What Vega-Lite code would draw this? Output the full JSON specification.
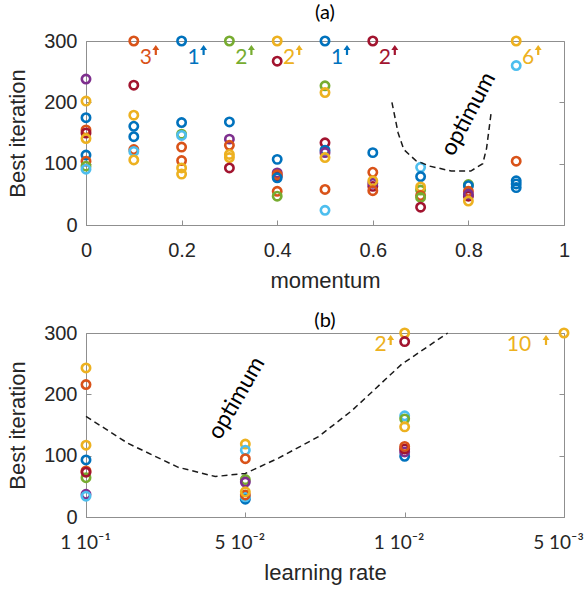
{
  "$schema": "https://vega.github.io/schema/vega-lite/v6.json",
  "background": "white",
  "padding": {"left": 6, "top": 2, "right": 0, "bottom": 4},
  "spacing": 18,
  "datasets": {
    "ptsA": [
      {"m": 0, "it": 238, "c": "purple"}, {"m": 0, "it": 202, "c": "yellow"}, {"m": 0, "it": 175, "c": "blue"},
      {"m": 0, "it": 155, "c": "orange"}, {"m": 0, "it": 150, "c": "darkred"}, {"m": 0, "it": 141, "c": "yellow"},
      {"m": 0, "it": 114, "c": "blue"}, {"m": 0, "it": 104, "c": "orange"}, {"m": 0, "it": 96, "c": "green"},
      {"m": 0, "it": 91, "c": "cyan"},
      {"m": 0.1, "it": 300, "c": "orange"}, {"m": 0.1, "it": 228, "c": "darkred"}, {"m": 0.1, "it": 179, "c": "yellow"},
      {"m": 0.1, "it": 161, "c": "blue"}, {"m": 0.1, "it": 144, "c": "blue"}, {"m": 0.1, "it": 123, "c": "orange"},
      {"m": 0.1, "it": 120, "c": "cyan"}, {"m": 0.1, "it": 106, "c": "yellow"},
      {"m": 0.2, "it": 300, "c": "blue"}, {"m": 0.2, "it": 167, "c": "blue"}, {"m": 0.2, "it": 148, "c": "green"},
      {"m": 0.2, "it": 146, "c": "cyan"}, {"m": 0.2, "it": 127, "c": "orange"}, {"m": 0.2, "it": 105, "c": "orange"},
      {"m": 0.2, "it": 93, "c": "yellow"}, {"m": 0.2, "it": 83, "c": "yellow"},
      {"m": 0.3, "it": 300, "c": "green"}, {"m": 0.3, "it": 168, "c": "blue"}, {"m": 0.3, "it": 140, "c": "purple"},
      {"m": 0.3, "it": 130, "c": "orange"}, {"m": 0.3, "it": 115, "c": "yellow"}, {"m": 0.3, "it": 110, "c": "yellow"},
      {"m": 0.3, "it": 93, "c": "darkred"},
      {"m": 0.4, "it": 300, "c": "yellow"}, {"m": 0.4, "it": 267, "c": "darkred"}, {"m": 0.4, "it": 107, "c": "blue"},
      {"m": 0.4, "it": 80, "c": "darkred"}, {"m": 0.4, "it": 85, "c": "purple"}, {"m": 0.4, "it": 82, "c": "orange"},
      {"m": 0.4, "it": 77, "c": "blue"}, {"m": 0.4, "it": 55, "c": "orange"}, {"m": 0.4, "it": 47, "c": "green"},
      {"m": 0.5, "it": 300, "c": "blue"}, {"m": 0.5, "it": 227, "c": "green"}, {"m": 0.5, "it": 216, "c": "yellow"},
      {"m": 0.5, "it": 134, "c": "darkred"}, {"m": 0.5, "it": 122, "c": "blue"}, {"m": 0.5, "it": 118, "c": "purple"},
      {"m": 0.5, "it": 110, "c": "yellow"}, {"m": 0.5, "it": 58, "c": "orange"}, {"m": 0.5, "it": 24, "c": "cyan"},
      {"m": 0.6, "it": 300, "c": "darkred"}, {"m": 0.6, "it": 118, "c": "blue"}, {"m": 0.6, "it": 86, "c": "orange"},
      {"m": 0.6, "it": 63, "c": "darkred"}, {"m": 0.6, "it": 68, "c": "purple"}, {"m": 0.6, "it": 72, "c": "yellow"},
      {"m": 0.6, "it": 56, "c": "orange"},
      {"m": 0.7, "it": 94, "c": "cyan"}, {"m": 0.7, "it": 79, "c": "blue"}, {"m": 0.7, "it": 57, "c": "green"},
      {"m": 0.7, "it": 62, "c": "yellow"}, {"m": 0.7, "it": 48, "c": "orange"}, {"m": 0.7, "it": 45, "c": "green"},
      {"m": 0.7, "it": 29, "c": "darkred"},
      {"m": 0.8, "it": 66, "c": "green"}, {"m": 0.8, "it": 64, "c": "blue"}, {"m": 0.8, "it": 47, "c": "darkred"},
      {"m": 0.8, "it": 55, "c": "orange"}, {"m": 0.8, "it": 50, "c": "purple"}, {"m": 0.8, "it": 39, "c": "yellow"},
      {"m": 0.9, "it": 300, "c": "yellow"}, {"m": 0.9, "it": 260, "c": "cyan"}, {"m": 0.9, "it": 104, "c": "orange"},
      {"m": 0.9, "it": 72, "c": "blue"}, {"m": 0.9, "it": 67, "c": "blue"}, {"m": 0.9, "it": 61, "c": "blue"}
    ],
    "capA": [
      {"m": 0.1, "it": 300, "c": "orange", "n": "3"},
      {"m": 0.2, "it": 300, "c": "blue", "n": "1"},
      {"m": 0.3, "it": 300, "c": "green", "n": "2"},
      {"m": 0.4, "it": 300, "c": "yellow", "n": "2"},
      {"m": 0.5, "it": 300, "c": "blue", "n": "1"},
      {"m": 0.6, "it": 300, "c": "darkred", "n": "2"},
      {"m": 0.9, "it": 300, "c": "yellow", "n": "6"}
    ],
    "curveA": [
      {"k": 1, "m": 0.640, "it": 200}, {"k": 2, "m": 0.653, "it": 150}, {"k": 3, "m": 0.665, "it": 123},
      {"k": 4, "m": 0.69, "it": 105}, {"k": 5, "m": 0.719, "it": 96}, {"k": 6, "m": 0.764, "it": 88},
      {"k": 7, "m": 0.805, "it": 88}, {"k": 8, "m": 0.830, "it": 100}, {"k": 9, "m": 0.838, "it": 125},
      {"k": 10, "m": 0.843, "it": 155}, {"k": 11, "m": 0.848, "it": 186}
    ],
    "ptsB": [
      {"lr": 0, "it": 243, "c": "yellow"}, {"lr": 0, "it": 216, "c": "orange"}, {"lr": 0, "it": 117, "c": "yellow"},
      {"lr": 0, "it": 93, "c": "blue"}, {"lr": 0, "it": 75, "c": "orange"}, {"lr": 0, "it": 64, "c": "green"},
      {"lr": 0, "it": 73, "c": "darkred"}, {"lr": 0, "it": 37, "c": "purple"}, {"lr": 0, "it": 34, "c": "cyan"},
      {"lr": 1, "it": 119, "c": "yellow"}, {"lr": 1, "it": 109, "c": "cyan"}, {"lr": 1, "it": 95, "c": "orange"},
      {"lr": 1, "it": 61, "c": "green"}, {"lr": 1, "it": 57, "c": "purple"}, {"lr": 1, "it": 29, "c": "blue"},
      {"lr": 1, "it": 33, "c": "cyan"}, {"lr": 1, "it": 36, "c": "orange"}, {"lr": 1, "it": 41, "c": "yellow"},
      {"lr": 2, "it": 300, "c": "yellow"}, {"lr": 2, "it": 286, "c": "darkred"}, {"lr": 2, "it": 165, "c": "cyan"},
      {"lr": 2, "it": 160, "c": "green"}, {"lr": 2, "it": 147, "c": "yellow"}, {"lr": 2, "it": 99, "c": "blue"},
      {"lr": 2, "it": 106, "c": "purple"}, {"lr": 2, "it": 111, "c": "darkred"}, {"lr": 2, "it": 115, "c": "orange"},
      {"lr": 3, "it": 300, "c": "yellow"}
    ],
    "curveB": [
      {"k": 1, "lr": 0, "it": 164}, {"k": 2, "lr": 0.264, "it": 120}, {"k": 3, "lr": 0.579, "it": 81},
      {"k": 4, "lr": 0.811, "it": 66}, {"k": 5, "lr": 1.0, "it": 71}, {"k": 6, "lr": 1.208, "it": 96},
      {"k": 7, "lr": 1.459, "it": 131}, {"k": 8, "lr": 1.667, "it": 173}, {"k": 9, "lr": 1.981, "it": 249},
      {"k": 10, "lr": 2.27, "it": 300}
    ]
  },
  "config": {
    "view": {"stroke": "#8f8f8f", "strokeWidth": 1},
    "axis": {
      "grid": false, "domainColor": "#8f8f8f", "tickColor": "#8f8f8f", "tickSize": -5, "labelFlush": false, "offset": 0,
      "labelFont": "Liberation Sans", "labelFontSize": 20, "labelColor": "#262626",
      "titleFont": "Liberation Sans", "titleFontSize": 22, "titleFontWeight": "normal", "titleColor": "#262626"
    },
    "title": {"font": "Lato", "fontSize": 20, "fontWeight": "normal", "color": "#000000"}
  },
  "vconcat": [
    {
      "width": 478, "height": 184,
      "title": {"text": "(a)", "offset": 8},
      "resolve": {"axis": {"y": "independent"}},
      "layer": [
        {
          "data": {"name": "ptsA"},
          "mark": {"type": "point", "shape": "circle", "filled": false, "size": 70, "strokeWidth": 2.6, "opacity": 1},
          "encoding": {
            "x": {"field": "m", "type": "quantitative", "scale": {"domain": [0, 1], "padding": 0, "nice": false},
                  "axis": {"title": "momentum", "values": [0, 0.2, 0.4, 0.6, 0.8, 1], "format": "~g", "labelPadding": 20, "titlePadding": 10}},
            "y": {"field": "it", "type": "quantitative", "scale": {"domain": [0, 300], "padding": 0, "nice": false},
                  "axis": {"title": "Best iteration", "values": [0, 100, 200, 300], "labelPadding": 14, "titlePadding": 14, "offset": 0}},
            "color": {"field": "c", "type": "nominal", "legend": null,
                      "scale": {"domain": ["blue", "orange", "yellow", "purple", "green", "cyan", "darkred"],
                                "range": ["#0072BD", "#D95319", "#EDB120", "#7E2F8E", "#77AC30", "#4DBEEE", "#A2142F"]}}
          }
        },
        {
          "data": {"name": "curveA"},
          "mark": {"type": "line", "color": "#1a1a1a", "strokeWidth": 1.5, "strokeDash": [6, 4]},
          "encoding": {
            "x": {"field": "m", "type": "quantitative"},
            "y": {"field": "it", "type": "quantitative",
                  "axis": {"orient": "right", "title": null, "labels": false, "domain": false, "values": [0, 100, 200, 300], "offset": 0}},
            "order": {"field": "k"}
          }
        },
        {
          "data": {"name": "capA"},
          "mark": {"type": "text", "font": "Lato", "fontSize": 21, "align": "center", "baseline": "middle", "dx": 12, "dy": 17},
          "encoding": {
            "x": {"field": "m", "type": "quantitative"},
            "y": {"field": "it", "type": "quantitative", "axis": null},
            "text": {"field": "n"},
            "color": {"field": "c", "type": "nominal", "legend": null}
          }
        },
        {
          "data": {"name": "capA"},
          "mark": {"type": "point", "filled": true, "opacity": 1, "size": 100, "xOffset": 22, "yOffset": 9,
                   "shape": "M0,-1L0.7,0L0.22,0L0.22,1L-0.22,1L-0.22,0L-0.7,0Z"},
          "encoding": {
            "x": {"field": "m", "type": "quantitative"},
            "y": {"field": "it", "type": "quantitative", "axis": null},
            "color": {"field": "c", "type": "nominal", "legend": null}
          }
        },
        {
          "data": {"values": [{"m": 0.8, "it": 181, "t": "optimum"}]},
          "mark": {"type": "text", "font": "Lato", "fontSize": 23, "angle": 298, "align": "center", "baseline": "middle", "color": "#000000"},
          "encoding": {
            "x": {"field": "m", "type": "quantitative"},
            "y": {"field": "it", "type": "quantitative", "axis": null},
            "text": {"field": "t"}
          }
        }
      ]
    },
    {
      "width": 478, "height": 184,
      "title": {"text": "(b)", "offset": -8},
      "resolve": {"axis": {"y": "independent"}},
      "layer": [
        {
          "data": {"name": "ptsB"},
          "mark": {"type": "point", "shape": "circle", "filled": false, "size": 70, "strokeWidth": 2.6, "opacity": 1},
          "encoding": {
            "x": {"field": "lr", "type": "quantitative", "scale": {"domain": [0, 3], "padding": 0, "nice": false},
                  "axis": {"title": "learning rate", "values": [0, 1, 2, 3], "labelPadding": 21, "titlePadding": 10,
                           "labelFont": "Lato", "labelFontSize": 19,
                           "labelOffset": {"expr": "datum.value == 0 ? -1 : -6"},
                           "labelExpr": "['1 10⁻¹', '5 10⁻²', '1 10⁻²', '5 10⁻³'][datum.value]"}},
            "y": {"field": "it", "type": "quantitative", "scale": {"domain": [0, 300], "padding": 0, "nice": false},
                  "axis": {"title": "Best iteration", "values": [0, 100, 200, 300], "labelPadding": 14, "titlePadding": 14, "offset": 0}},
            "color": {"field": "c", "type": "nominal", "legend": null,
                      "scale": {"domain": ["blue", "orange", "yellow", "purple", "green", "cyan", "darkred"],
                                "range": ["#0072BD", "#D95319", "#EDB120", "#7E2F8E", "#77AC30", "#4DBEEE", "#A2142F"]}}
          }
        },
        {
          "data": {"name": "curveB"},
          "mark": {"type": "line", "color": "#1a1a1a", "strokeWidth": 1.5, "strokeDash": [6, 4]},
          "encoding": {
            "x": {"field": "lr", "type": "quantitative"},
            "y": {"field": "it", "type": "quantitative",
                  "axis": {"orient": "right", "title": null, "labels": false, "domain": false, "values": [0, 100, 200, 300], "offset": 0}},
            "order": {"field": "k"}
          }
        },
        {
          "data": {"values": [{"lr": 2, "it": 300, "n": "2"}]},
          "mark": {"type": "text", "font": "Lato", "fontSize": 21, "align": "center", "baseline": "middle", "dx": -24, "dy": 12, "color": "#EDB120"},
          "encoding": {
            "x": {"field": "lr", "type": "quantitative"},
            "y": {"field": "it", "type": "quantitative", "axis": null},
            "text": {"field": "n"}
          }
        },
        {
          "data": {"values": [{"lr": 3, "it": 300, "n": "10"}]},
          "mark": {"type": "text", "font": "Lato", "fontSize": 21, "align": "center", "baseline": "middle", "dx": -45, "dy": 12, "color": "#EDB120"},
          "encoding": {
            "x": {"field": "lr", "type": "quantitative"},
            "y": {"field": "it", "type": "quantitative", "axis": null},
            "text": {"field": "n"}
          }
        },
        {
          "data": {"values": [{"lr": 2, "it": 300}]},
          "mark": {"type": "point", "filled": true, "opacity": 1, "size": 100, "xOffset": -14, "yOffset": 7, "color": "#EDB120",
                   "shape": "M0,-1L0.7,0L0.22,0L0.22,1L-0.22,1L-0.22,0L-0.7,0Z"},
          "encoding": {
            "x": {"field": "lr", "type": "quantitative"},
            "y": {"field": "it", "type": "quantitative", "axis": null}
          }
        },
        {
          "data": {"values": [{"lr": 3, "it": 300}]},
          "mark": {"type": "point", "filled": true, "opacity": 1, "size": 100, "xOffset": -18, "yOffset": 7, "color": "#EDB120",
                   "shape": "M0,-1L0.7,0L0.22,0L0.22,1L-0.22,1L-0.22,0L-0.7,0Z"},
          "encoding": {
            "x": {"field": "lr", "type": "quantitative"},
            "y": {"field": "it", "type": "quantitative", "axis": null}
          }
        },
        {
          "data": {"values": [{"lr": 0.945, "it": 194, "t": "optimum"}]},
          "mark": {"type": "text", "font": "Lato", "fontSize": 23, "angle": 300, "align": "center", "baseline": "middle", "color": "#000000"},
          "encoding": {
            "x": {"field": "lr", "type": "quantitative"},
            "y": {"field": "it", "type": "quantitative", "axis": null},
            "text": {"field": "t"}
          }
        }
      ]
    }
  ]
}
